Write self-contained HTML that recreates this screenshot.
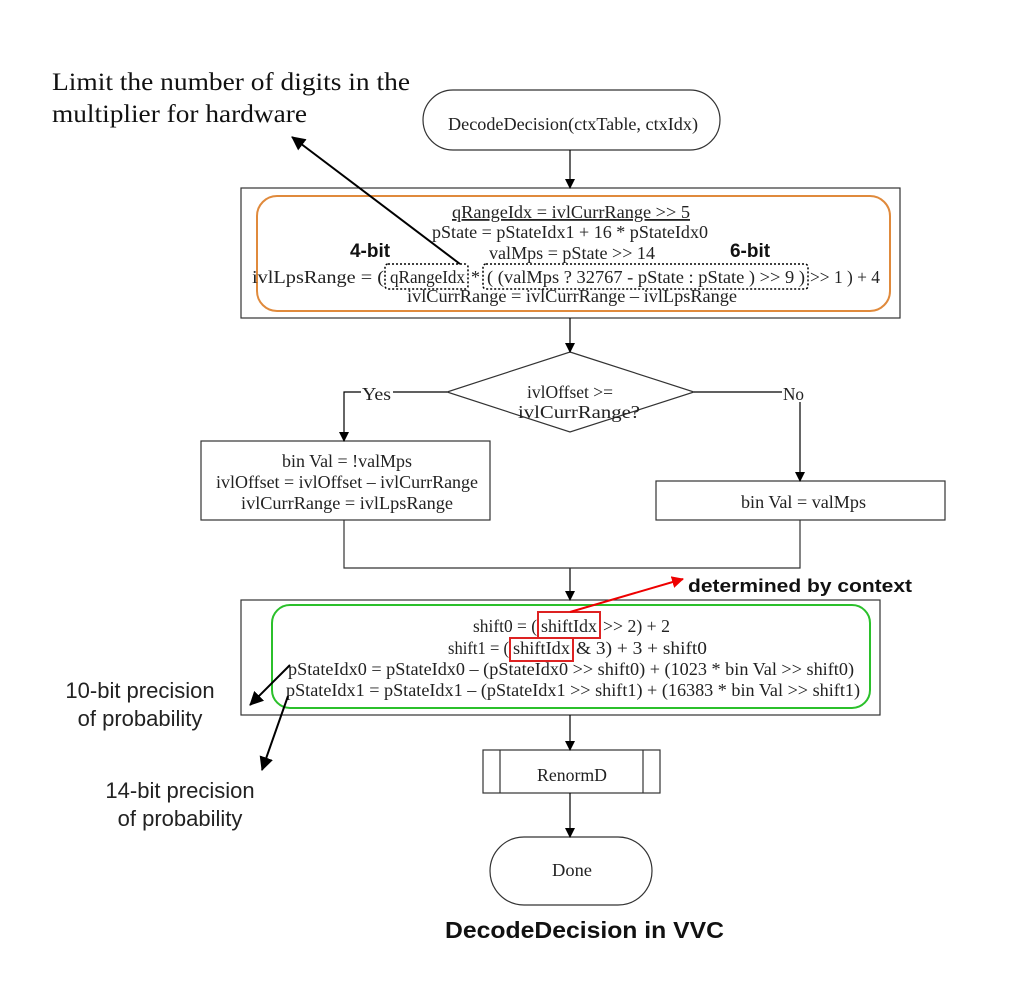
<!DOCTYPE html>
<html><head><meta charset="utf-8"><style>
html,body{margin:0;padding:0;background:#fff;}
svg{display:block;}
.s{font-family:"Liberation Serif",serif;font-size:18px;fill:#222;}
.b{font-family:"Liberation Sans","DejaVu Sans",sans-serif;font-weight:bold;fill:#111;}
.a{font-family:"Liberation Sans","DejaVu Sans",sans-serif;fill:#222;font-size:22px;}
</style></head><body>
<svg width="1023" height="1000" viewBox="0 0 1023 1000" xmlns="http://www.w3.org/2000/svg">
<defs>
<marker id="ah" markerWidth="10" markerHeight="10" refX="9" refY="5" orient="auto" markerUnits="userSpaceOnUse"><path d="M0,0 L10,5 L0,10 z" fill="#000"/></marker>
<marker id="ar" markerWidth="12" markerHeight="12" refX="11" refY="6" orient="auto" markerUnits="userSpaceOnUse"><path d="M0,0 L12,6 L0,12 z" fill="#e00"/></marker>
<marker id="ad" markerWidth="14" markerHeight="14" refX="13" refY="7" orient="auto" markerUnits="userSpaceOnUse"><path d="M0,0 L14,7 L0,14 z" fill="#000"/></marker>
</defs>
<g stroke="#333" stroke-width="1.2" fill="none">
<rect x="423" y="90" width="297" height="60" rx="30"/>
<rect x="241" y="188" width="659" height="130"/>
<polygon points="570,352 694,392 570,432 447,392"/>
<rect x="201" y="441" width="289" height="79"/>
<rect x="656" y="481" width="289" height="39"/>
<rect x="241" y="600" width="639" height="115"/>
<rect x="483" y="750" width="177" height="43"/>
<line x1="500" y1="750" x2="500" y2="793"/><line x1="643" y1="750" x2="643" y2="793"/>
<rect x="490" y="837" width="162" height="68" rx="34"/>
</g>
<rect x="257" y="196" width="633" height="115" rx="20" fill="none" stroke="#e08a3c" stroke-width="2"/>
<rect x="272" y="605" width="598" height="103" rx="18" fill="none" stroke="#2bc02b" stroke-width="2"/>
<g stroke="#000" stroke-width="1.2" fill="none" marker-end="url(#ah)">
<line x1="570" y1="150" x2="570" y2="188"/>
<line x1="570" y1="318" x2="570" y2="352"/>
<polyline points="447,392 344,392 344,441"/>
<polyline points="694,392 800,392 800,481"/>
<line x1="570" y1="568" x2="570" y2="600"/>
<line x1="570" y1="715" x2="570" y2="750"/>
<line x1="570" y1="793" x2="570" y2="837"/>
</g>
<g stroke="#333" stroke-width="1.2" fill="none">
<polyline points="344,520 344,568 800,568 800,520"/>
</g>
<rect x="361" y="384" width="32" height="18" fill="#fff"/>
<rect x="782" y="384" width="24" height="18" fill="#fff"/>
<text class="s" x="362" y="400" textLength="29" lengthAdjust="spacingAndGlyphs">Yes</text>
<text class="s" x="783" y="400" textLength="21" lengthAdjust="spacingAndGlyphs">No</text>
<text class="s" x="448" y="130" textLength="250" lengthAdjust="spacingAndGlyphs">DecodeDecision(ctxTable, ctxIdx)</text>
<text class="s" x="452" y="218" textLength="238" lengthAdjust="spacingAndGlyphs" text-decoration="underline">qRangeIdx = ivlCurrRange &gt;&gt; 5</text>
<text class="s" x="432" y="238" textLength="276" lengthAdjust="spacingAndGlyphs">pState = pStateIdx1 + 16 * pStateIdx0</text>
<text class="s" x="489" y="259" textLength="166" lengthAdjust="spacingAndGlyphs">valMps = pState &gt;&gt; 14</text>
<text class="s" x="252" y="283" textLength="132" lengthAdjust="spacingAndGlyphs">ivlLpsRange = (</text>
<text class="s" x="390" y="283" textLength="75" lengthAdjust="spacingAndGlyphs">qRangeIdx</text>
<text class="s" x="471" y="283">*</text>
<text class="s" x="487" y="283" textLength="318" lengthAdjust="spacingAndGlyphs">( (valMps ?  32767 - pState : pState ) &gt;&gt; 9 )</text>
<text class="s" x="810" y="283" textLength="70" lengthAdjust="spacingAndGlyphs">&gt;&gt; 1 ) + 4</text>
<text class="s" x="407" y="302" textLength="330" lengthAdjust="spacingAndGlyphs">ivlCurrRange = ivlCurrRange – ivlLpsRange</text>
<text class="b" x="370" y="257" font-size="19" text-anchor="middle">4-bit</text>
<text class="b" x="750" y="257" font-size="19" text-anchor="middle">6-bit</text>
<g fill="none" stroke="#000" stroke-width="1.5" stroke-dasharray="2,2">
<rect x="385" y="264" width="83" height="25" rx="3"/>
<rect x="483" y="264" width="325" height="25" rx="3"/>
</g>
<line x1="460" y1="264" x2="292" y2="137" stroke="#000" stroke-width="2" marker-end="url(#ad)"/>
<text class="s" x="527" y="398" textLength="86" lengthAdjust="spacingAndGlyphs">ivlOffset &gt;=</text>
<text class="s" x="518" y="418" textLength="122" lengthAdjust="spacingAndGlyphs">ivlCurrRange?</text>
<text class="s" x="282" y="467" textLength="130" lengthAdjust="spacingAndGlyphs">bin Val = !valMps</text>
<text class="s" x="216" y="488" textLength="262" lengthAdjust="spacingAndGlyphs">ivlOffset = ivlOffset – ivlCurrRange</text>
<text class="s" x="241" y="509" textLength="212" lengthAdjust="spacingAndGlyphs">ivlCurrRange = ivlLpsRange</text>
<text class="s" x="741" y="508" textLength="125" lengthAdjust="spacingAndGlyphs">bin Val = valMps</text>
<text class="s" x="473" y="632" textLength="64" lengthAdjust="spacingAndGlyphs">shift0 = (</text>
<text class="s" x="541" y="632" textLength="56" lengthAdjust="spacingAndGlyphs">shiftIdx</text>
<text class="s" x="603" y="632" textLength="67" lengthAdjust="spacingAndGlyphs">&gt;&gt; 2) + 2</text>
<text class="s" x="448" y="654" textLength="61" lengthAdjust="spacingAndGlyphs">shift1 = (</text>
<text class="s" x="513" y="654" textLength="57" lengthAdjust="spacingAndGlyphs">shiftIdx</text>
<text class="s" x="576" y="654" textLength="131" lengthAdjust="spacingAndGlyphs">&amp; 3) + 3 + shift0</text>
<text class="s" x="288" y="675" textLength="566" lengthAdjust="spacingAndGlyphs">pStateIdx0 = pStateIdx0 – (pStateIdx0 &gt;&gt; shift0) + (1023 * bin Val &gt;&gt; shift0)</text>
<text class="s" x="286" y="696" textLength="574" lengthAdjust="spacingAndGlyphs">pStateIdx1 = pStateIdx1 – (pStateIdx1 &gt;&gt; shift1) + (16383 * bin Val &gt;&gt; shift1)</text>
<g fill="none" stroke="#d22" stroke-width="2">
<rect x="538" y="612" width="62" height="26"/>
<rect x="510" y="638" width="63" height="23"/>
</g>
<line x1="570" y1="612" x2="683" y2="579" stroke="#e00" stroke-width="2" marker-end="url(#ar)"/>
<text class="b" x="688" y="592" font-size="18" textLength="224" lengthAdjust="spacingAndGlyphs">determined by context</text>
<line x1="290" y1="665" x2="250" y2="705" stroke="#000" stroke-width="2" marker-end="url(#ad)"/>
<line x1="288" y1="696" x2="262" y2="770" stroke="#000" stroke-width="2" marker-end="url(#ad)"/>
<text class="s" x="537" y="781" textLength="70" lengthAdjust="spacingAndGlyphs">RenormD</text>
<text class="s" x="552" y="876" textLength="40" lengthAdjust="spacingAndGlyphs">Done</text>
<text x="52" y="90" font-family="Liberation Serif,serif" font-size="25" fill="#111" textLength="358" lengthAdjust="spacingAndGlyphs">Limit the number of digits in the</text>
<text x="52" y="122" font-family="Liberation Serif,serif" font-size="25" fill="#111" textLength="255" lengthAdjust="spacingAndGlyphs">multiplier for hardware</text>
<text class="a" x="140" y="698" text-anchor="middle">10-bit precision</text>
<text class="a" x="140" y="726" text-anchor="middle">of probability</text>
<text class="a" x="180" y="798" text-anchor="middle">14-bit precision</text>
<text class="a" x="180" y="826" text-anchor="middle">of probability</text>
<text class="b" x="445" y="938" font-size="23" textLength="279" lengthAdjust="spacingAndGlyphs">DecodeDecision in VVC</text>
</svg>
</body></html>
